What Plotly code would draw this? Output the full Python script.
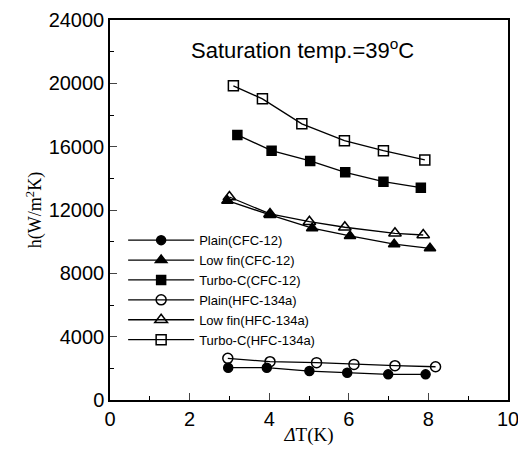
import plotly.graph_objects as go

# Data
plain_cfc_x = [2.97, 3.94, 5.01, 5.96, 6.99, 7.93]
plain_cfc_y = [2040, 2040, 1830, 1720, 1620, 1620]
lowfin_cfc_x = [2.95, 4.02, 5.08, 6.03, 7.14, 8.04]
lowfin_cfc_y = [12590, 11690, 10850, 10360, 9840, 9580]
turbo_cfc_x = [3.20, 4.06, 5.03, 5.91, 6.87, 7.81]
turbo_cfc_y = [16740, 15750, 15100, 14380, 13790, 13410]
plain_hfc_x = [2.96, 4.02, 5.19, 6.13, 7.16, 8.18]
plain_hfc_y = [2630, 2420, 2360, 2250, 2170, 2100]
lowfin_hfc_x = [3.00, 4.02, 5.01, 5.90, 7.16, 7.87]
lowfin_hfc_y = [12820, 11750, 11260, 10910, 10530, 10420]
turbo_hfc_x = [3.10, 3.83, 4.82, 5.89, 6.87, 7.91]
turbo_hfc_y = [19840, 19020, 17440, 16380, 15750, 15160]

x_ticks = [0, 2, 4, 6, 8, 10]
x_tick_labels = ["0", "2", "4", "6", "8", "10"]
y_ticks = [0, 4000, 8000, 12000, 16000, 20000, 24000]
y_tick_labels = ["0", "4000", "8000", "12000", "16000", "20000", "24000"]

series = [
    ("Plain(CFC-12)", plain_cfc_x, plain_cfc_y, "circle", 9),
    ("Low fin(CFC-12)", lowfin_cfc_x, lowfin_cfc_y, "triangle-up", 10),
    ("Turbo-C(CFC-12)", turbo_cfc_x, turbo_cfc_y, "square", 9),
    ("Plain(HFC-134a)", plain_hfc_x, plain_hfc_y, "circle-open", 10),
    ("Low fin(HFC-134a)", lowfin_hfc_x, lowfin_hfc_y, "triangle-up-open", 11),
    ("Turbo-C(HFC-134a)", turbo_hfc_x, turbo_hfc_y, "square-open", 10),
]

fig = go.Figure()
for name, xs, ys, sym, sz in series:
    fig.add_trace(go.Scatter(
        x=xs, y=ys, name=name, mode="lines+markers",
        line=dict(color="black", width=1.3),
        marker=dict(symbol=sym, size=sz, color="black",
                    line=dict(color="black", width=1.5)),
    ))

axis_font = dict(family="Liberation Sans, Arial", size=20, color="black")
fig.update_xaxes(
    range=[0, 10], tickvals=x_ticks, ticktext=x_tick_labels,
    ticks="inside", ticklen=7, tickwidth=1.2, ticklabeloverflow="allow",
    minor=dict(ticks="inside", ticklen=4, dtick=1, tickcolor="black"),
    showline=True, linecolor="black", linewidth=1.5, mirror=True,
    showgrid=False, zeroline=False, tickfont=axis_font, automargin=False,
    title=dict(text="<i>Δ</i>T(K)", font=dict(family="Liberation Serif, Times New Roman", size=19, color="black"), standoff=2),
)
fig.update_yaxes(
    range=[0, 24000], tickvals=y_ticks, ticktext=y_tick_labels,
    ticks="inside", ticklen=7, tickwidth=1.2, ticklabeloverflow="allow",
    minor=dict(ticks="inside", ticklen=4, dtick=2000, tickcolor="black"),
    showline=True, linecolor="black", linewidth=1.5, mirror=True,
    showgrid=False, zeroline=False, tickfont=axis_font, automargin=False,
    title=dict(text="h(W/m<sup>2</sup>K)", font=dict(family="Liberation Serif, Times New Roman", size=18, color="black"), standoff=2),
)

fig.add_annotation(
    text="Saturation temp.=39<sup>o</sup>C", xref="paper", yref="paper",
    x=0.484, y=0.924, showarrow=False, xanchor="center", yanchor="middle",
    font=dict(family="Liberation Sans, Arial", size=22, color="black"),
)

# page body has an 8px margin, so the figure is sized to fit within it
fig.update_layout(
    width=510, height=438,
    margin=dict(l=102, r=10, t=12, b=46),
    paper_bgcolor="white", plot_bgcolor="white",
    showlegend=True,
    legend=dict(x=0.033, y=0.46, xanchor="left", yanchor="top",
                bgcolor="rgba(0,0,0,0)", itemwidth=66, tracegroupgap=0,
                font=dict(family="Liberation Sans, Arial", size=13, color="black")),
)

fig.write_html("out.html")
